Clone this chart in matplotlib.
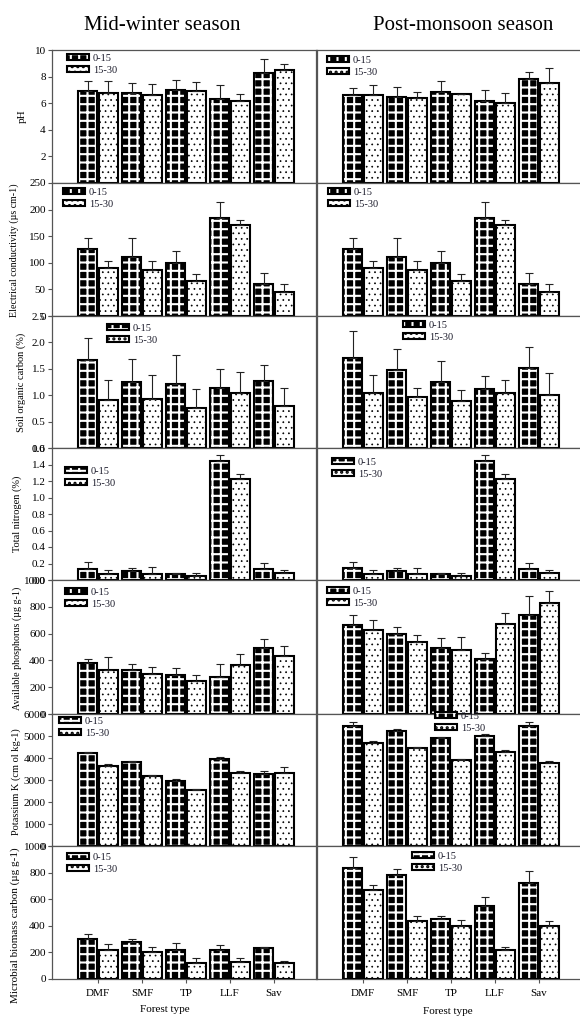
import numpy as np
import matplotlib
matplotlib.use('Agg')
import matplotlib.pyplot as plt
from matplotlib.legend_handler import HandlerTuple

plt.rcParams['font.family'] = ['Liberation Serif', 'DejaVu Serif']
plt.rcParams['hatch.linewidth'] = 1.5

forest = ['DMF', 'SMF', 'TP', 'LLF', 'Sav']
depths = ['0-15', '15-30']

# pH
ph_mw_top = [6.90, 6.77, 7.00, 6.34, 8.29]
ph_mw_top_se = [0.80, 0.77, 0.72, 1.03, 1.01]
ph_mw_sub = [6.77, 6.64, 6.89, 6.14, 8.50]
ph_mw_sub_se = [0.90, 0.78, 0.73, 0.57, 0.42]
ph_pm_top = [6.64, 6.49, 6.82, 6.19, 7.82]
ph_pm_top_se = [0.53, 0.73, 0.82, 0.78, 0.55]
ph_pm_sub = [6.62, 6.39, 6.67, 5.99, 7.52]
ph_pm_sub_se = [0.72, 0.47, 0.05, 0.80, 1.15]

# electrical conductivity
ec_mw_top = [125.7, 111, 99, 184, 60.6]
ec_mw_top_se = [20, 35, 23.6, 31, 19.4]
ec_mw_sub = [91, 86, 66, 171, 45.6]
ec_mw_sub_se = [13, 18, 13, 10, 14.4]
ec_pm_top = [125.7, 111, 99, 184, 60.6]
ec_pm_top_se = [20, 35, 23.6, 31, 19.4]
ec_pm_sub = [91, 86, 66, 171, 45.6]
ec_pm_sub_se = [13, 18, 13, 10, 14.4]

# soil organic carbon
soc_mw_top = [1.66, 1.25, 1.22, 1.14, 1.26]
soc_mw_top_se = [0.42, 0.44, 0.55, 0.35, 0.32]
soc_mw_sub = [0.91, 0.92, 0.755, 1.04, 0.79]
soc_mw_sub_se = [0.38, 0.46, 0.355, 0.39, 0.35]
soc_pm_top = [1.71, 1.47, 1.25, 1.11, 1.52]
soc_pm_top_se = [0.51, 0.40, 0.40, 0.25, 0.39]
soc_pm_sub = [1.04, 0.97, 0.89, 1.04, 1.00]
soc_pm_sub_se = [0.35, 0.16, 0.21, 0.25, 0.42]

# total nitrogen
tn_mw_top = [0.138, 0.105, 0.069, 1.44, 0.13]
tn_mw_top_se = [0.08, 0.045, 0.021, 0.07, 0.08]
tn_mw_sub = [0.077, 0.069, 0.049, 1.22, 0.085]
tn_mw_sub_se = [0.043, 0.085, 0.041, 0.07, 0.041]
tn_pm_top = [0.14, 0.11, 0.069, 1.44, 0.13]
tn_pm_top_se = [0.08, 0.04, 0.02, 0.07, 0.08]
tn_pm_sub = [0.077, 0.07, 0.049, 1.22, 0.09]
tn_pm_sub_se = [0.043, 0.08, 0.04, 0.07, 0.036]

# available phosphorus
ap_mw_top = [377, 332, 290, 277, 495]
ap_mw_top_se = [35, 43, 57, 98, 67]
ap_mw_sub = [332, 297, 247, 365, 432]
ap_mw_sub_se = [95, 53, 43, 85, 78]
ap_pm_top = [665, 600, 495, 407, 737]
ap_pm_top_se = [75, 50, 72, 50, 140]
ap_pm_sub = [627, 537, 475, 675, 832]
ap_pm_sub_se = [73, 50, 100, 82, 88]

# potassium
k_mw_top = [4230, 3840, 2960, 3970, 3260]
k_mw_top_se = [60, 40, 90, 90, 150]
k_mw_sub = [3640, 3185, 2540, 3310, 3340]
k_mw_sub_se = [105, 45, 60, 100, 250]
k_pm_top = [5440, 5210, 4910, 5015, 5440]
k_pm_top_se = [210, 90, 40, 65, 210]
k_pm_sub = [4700, 4455, 3930, 4260, 3775]
k_pm_sub_se = [90, 45, 30, 90, 95]

# microbial biomass carbon
mbc_mw_top = [304, 276, 221, 221, 234]
mbc_mw_top_se = [35, 23, 48, 32, 10]
mbc_mw_sub = [221, 204, 121, 126, 121]
mbc_mw_sub_se = [43, 34, 40, 35, 15]
mbc_pm_top = [837, 780, 449, 550, 721]
mbc_pm_top_se = [80, 50, 23, 68, 91]
mbc_pm_sub = [668, 437, 400, 221, 400]
mbc_pm_sub_se = [38, 40, 42, 23, 37]

# one entry per row: label, y limit, ticks, tick format, winter data, monsoon data
panels = [
    ('pH', 10, [2, 4, 6, 8, 10], '%d',
     (ph_mw_top, ph_mw_top_se, ph_mw_sub, ph_mw_sub_se),
     (ph_pm_top, ph_pm_top_se, ph_pm_sub, ph_pm_sub_se)),
    ('Electrical conductivity (\u00b5s cm-1)', 250, [0, 50, 100, 150, 200, 250], '%d',
     (ec_mw_top, ec_mw_top_se, ec_mw_sub, ec_mw_sub_se),
     (ec_pm_top, ec_pm_top_se, ec_pm_sub, ec_pm_sub_se)),
    ('Soil organic carbon (%)', 2.5, [0.0, 0.5, 1.0, 1.5, 2.0, 2.5], '%.1f',
     (soc_mw_top, soc_mw_top_se, soc_mw_sub, soc_mw_sub_se),
     (soc_pm_top, soc_pm_top_se, soc_pm_sub, soc_pm_sub_se)),
    ('Total nitrogen (%)', 1.6, [0.0, 0.2, 0.4, 0.6, 0.8, 1.0, 1.2, 1.4, 1.6], '%.1f',
     (tn_mw_top, tn_mw_top_se, tn_mw_sub, tn_mw_sub_se),
     (tn_pm_top, tn_pm_top_se, tn_pm_sub, tn_pm_sub_se)),
    ('Available phosphorus (\u00b5g g-1)', 1000, [0, 200, 400, 600, 800, 1000], '%d',
     (ap_mw_top, ap_mw_top_se, ap_mw_sub, ap_mw_sub_se),
     (ap_pm_top, ap_pm_top_se, ap_pm_sub, ap_pm_sub_se)),
    ('Potassium K (cm ol kg-1)', 6000, [0, 1000, 2000, 3000, 4000, 5000, 6000], '%d',
     (k_mw_top, k_mw_top_se, k_mw_sub, k_mw_sub_se),
     (k_pm_top, k_pm_top_se, k_pm_sub, k_pm_sub_se)),
    ('Microbial biomass carbon (\u00b5g g-1)', 1000, [0, 200, 400, 600, 800, 1000], '%d',
     (mbc_mw_top, mbc_mw_top_se, mbc_mw_sub, mbc_mw_sub_se),
     (mbc_pm_top, mbc_pm_top_se, mbc_pm_sub, mbc_pm_sub_se)),
]

# layout in pixels
W, H = 580.0, 1017.0
row_edges = [50, 183, 316, 448, 580, 714, 846, 979]
col_edges = [(52, 316), (317, 581)]
legend_at = [((67, 54), (327, 56)), ((63, 188), (328, 188)), ((107, 324), (403, 321)),
             ((65, 467), (332, 458)), ((65, 588), (327, 587)), ((59, 717), (435, 712)),
             ((67, 853), (412, 852))]
ylabel_at = [(22, 116, 8), (14, 250, 7.2), (21, 382, 7.5), (17, 514, 7.5),
             (17, 648, 7.2), (16, 782, 7.5), (15, 925, 8)]

fig = plt.figure(figsize=(W / 100, H / 100), dpi=100)

x = np.arange(len(forest))
bw = 0.42
off = 0.235
spine_c = '#555555'


def draw_panel(ax, vals, ymax, ticks, fmt, show_y, show_x, leg_xy):
    top, top_se, sub, sub_se = vals
    f1 = ax.bar(x - off, top, bw, color='black', edgecolor='white', linewidth=0,
                hatch='++', zorder=2)
    e1 = ax.bar(x - off, top, bw, fill=False, edgecolor='black', linewidth=1.5, zorder=3)
    f2 = ax.bar(x + off, sub, bw, color='white', edgecolor='black', linewidth=0,
                hatch='...', zorder=2)
    e2 = ax.bar(x + off, sub, bw, fill=False, edgecolor='black', linewidth=1.5, zorder=3)
    for p in f1:
        if hasattr(p, 'set_hatch_linewidth'):
            p.set_hatch_linewidth(1.5)
    for p in f2:
        if hasattr(p, 'set_hatch_linewidth'):
            p.set_hatch_linewidth(0.5)
    ax.errorbar(x - off, top, yerr=[np.zeros(len(top)), top_se], fmt='none',
                ecolor='#222222', elinewidth=0.8, capsize=3, capthick=0.8, zorder=4)
    ax.errorbar(x + off, sub, yerr=[np.zeros(len(sub)), sub_se], fmt='none',
                ecolor='#222222', elinewidth=0.8, capsize=3, capthick=0.8, zorder=4)

    ax.set_xlim(-1.045, 4.955)
    ax.set_ylim(0, ymax)
    ax.set_yticks(ticks)
    ax.set_yticklabels([fmt % t for t in ticks])
    ax.set_xticks(x)
    ax.set_xticklabels(forest)
    ax.tick_params(axis='y', direction='out', length=3, width=0.8, color=spine_c,
                   labelsize=8, pad=1.5, left=show_y, labelleft=show_y)
    ax.tick_params(axis='x', direction='out', length=3, width=0.8, color=spine_c,
                   labelsize=8, pad=4.5, labelbottom=show_x)
    for s in ax.spines.values():
        s.set_color(spine_c)
        s.set_linewidth(0.9)
    if not show_y:
        ax.spines['right'].set_visible(False)

    lx, ly = leg_xy
    ax.legend([(f1[0], e1[0]), (f2[0], e2[0])], depths,
              handler_map={tuple: HandlerTuple(ndivide=1, pad=0)},
              loc='upper left', bbox_to_anchor=(lx / W, 1 - ly / H),
              bbox_transform=fig.transFigure, frameon=False, fontsize=7.5,
              handlelength=2.1, handleheight=0.5, handletextpad=0.4,
              labelspacing=0.3, borderpad=0, borderaxespad=0,
              labelcolor='#1a1a2a')


n_rows = len(panels)
for i, (label, ymax, ticks, fmt, mw, pm) in enumerate(panels):
    y0, y1 = row_edges[i], row_edges[i + 1]
    for c, vals in enumerate([mw, pm]):
        x0, x1 = col_edges[c]
        ax = fig.add_axes([x0 / W, 1 - y1 / H, (x1 - x0) / W, (y1 - y0) / H])
        draw_panel(ax, vals, ymax, ticks, fmt, c == 0, i == n_rows - 1, legend_at[i][c])
    lx, ly, fs = ylabel_at[i]
    fig.text(lx / W, 1 - ly / H, label, rotation=90, ha='center', va='center', fontsize=fs)

fig.text(162 / W, 1 - 25 / H, 'Mid-winter season', ha='center', va='center', fontsize=15)
fig.text(463 / W, 1 - 25 / H, 'Post-monsoon season', ha='center', va='center', fontsize=15)
fig.text(165 / W, 1 - 1009 / H, 'Forest type', ha='center', va='center', fontsize=8)
fig.text(448 / W, 1 - 1012 / H, 'Forest type', ha='center', va='center', fontsize=8)

fig.savefig('out.png', dpi=100)
